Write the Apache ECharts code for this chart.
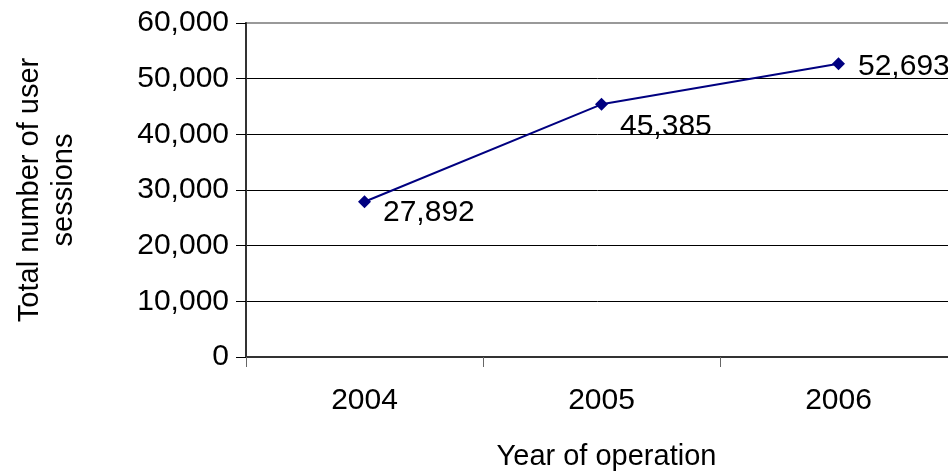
<!DOCTYPE html>
<html>
<head>
<meta charset="utf-8">
<script src="https://cdn.jsdelivr.net/npm/echarts@6/dist/echarts.min.js"></script>
<style>
  html, body { margin: 0; padding: 0; background: #fff; }
  #chart { width: 948px; height: 473px; }
</style>
</head>
<body>
<div id="chart"></div>
<script>
// Yearly totals of user sessions
const years = ['2004', '2005', '2006'];
const sessions = [27892, 45385, 52693];
const yTicks = [0, 10000, 20000, 30000, 40000, 50000, 60000];

// Per-point label nudges (px), right of each marker
const labelNudges = [[12, 11], [12, 22], [13, 3]];

const fmt = v => v.toLocaleString('en-US');
const font = 'Liberation Sans, Arial, sans-serif';
const fs = 30;

const chart = echarts.init(document.getElementById('chart'), null, { renderer: 'canvas' });
chart.setOption({
  animation: false,
  backgroundColor: '#fff',
  grid: {
    left: 246, top: 23, width: 711, height: 334,
    containLabel: false,
    outerBoundsMode: 'none',
    show: true, borderColor: '#999', borderWidth: 2, backgroundColor: 'transparent'
  },
  xAxis: {
    type: 'category',
    data: years,
    boundaryGap: true,
    name: 'Year of operation',
    nameLocation: 'middle',
    nameGap: 85,
    nameTextStyle: { fontFamily: font, fontSize: 29, color: '#000', padding: [0, 0, 0, 10] },
    axisLine: { lineStyle: { color: '#333', width: 2 } },
    axisTick: { show: true, length: 10, inside: false, lineStyle: { color: '#666', width: 1 } },
    axisLabel: { fontFamily: font, fontSize: fs, color: '#000', margin: 29 },
    splitLine: { show: false }
  },
  yAxis: {
    type: 'value',
    min: yTicks[0],
    max: yTicks[yTicks.length - 1],
    interval: yTicks[1] - yTicks[0],
    name: 'Total number of user\nsessions',
    nameLocation: 'middle',
    nameGap: 165,
    nameRotate: 90,
    nameTextStyle: { fontFamily: font, fontSize: 29, color: '#000', lineHeight: 34 },
    axisLine: { show: true, lineStyle: { color: '#333', width: 2 } },
    axisTick: { show: true, length: 10, lineStyle: { color: '#000', width: 1 } },
    axisLabel: { fontFamily: font, fontSize: fs, color: '#000', margin: 17, formatter: v => fmt(v) },
    splitLine: {
      show: true,
      lineStyle: { color: ['#000', '#000', '#000', '#000', '#000', '#000', '#999'], width: 1 }
    }
  },
  series: [{
    type: 'line',
    data: sessions.map((v, i) => ({
      value: v,
      label: { offset: labelNudges[i] }
    })),
    symbol: 'diamond',
    symbolSize: [13, 13],
    itemStyle: { color: '#000080' },
    lineStyle: { color: '#000080', width: 2 },
    label: {
      show: true,
      position: 'right',
      distance: 0,
      align: 'left',
      fontFamily: font,
      fontSize: fs,
      color: '#000',
      formatter: p => fmt(p.value)
    }
  }]
});
</script>
</body>
</html>
